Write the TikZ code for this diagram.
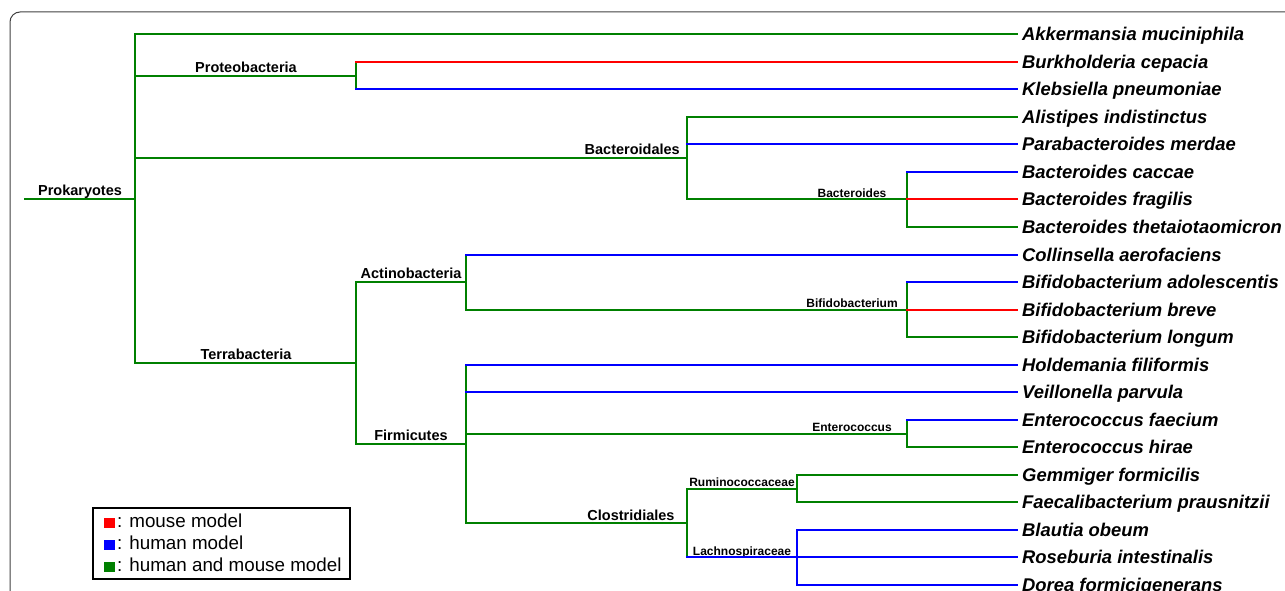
\documentclass[tikz,border=0pt]{standalone}
\usepackage{fontspec}
\setmainfont{Liberation Sans}
\definecolor{grn}{RGB}{0,128,0}
\definecolor{rd}{RGB}{255,0,0}
\definecolor{bl}{RGB}{0,0,255}
\newcommand{\legsq}[1]{\textcolor{#1}{\rule{11pt}{10pt}}\hspace{2pt}}

\begin{document}
\begin{tikzpicture}[x=1pt, y=-1pt,
  leaf/.style = {anchor=west, inner xsep=5pt, inner ysep=0pt, text height=13pt, text depth=0pt,
                 font=\fontsize{18.4}{20}\selectfont\bfseries\itshape},
  clade/.style = {anchor=base, inner sep=0pt, font=\fontsize{14.5}{16}\selectfont\bfseries},
  genus/.style = {anchor=base, inner sep=0pt, font=\fontsize{12}{14}\selectfont\bfseries},
  gline/.style = {draw=grn, line width=1.2pt, line cap=rect},
  rline/.style = {draw=rd, line width=1.2pt, line cap=rect},
  bline/.style = {draw=bl, line width=1.2pt, line cap=rect},
  legitem/.style = {anchor=base west, inner sep=0pt, font=\fontsize{18.8}{20}\selectfont}]
  \useasboundingbox (0,0) rectangle (1285,591);
  \draw[black!75, line width=1pt, rounded corners=10pt] (10,12) rectangle (1300,620);

  % species
  \node[leaf] (akk) at (1017,34) {Akkermansia muciniphila};
  \node[leaf] (burk) at (1017,62) {Burkholderia cepacia};
  \node[leaf] (kleb) at (1017,89) {Klebsiella pneumoniae};
  \node[leaf] (alis) at (1017,117) {Alistipes indistinctus};
  \node[leaf] (para) at (1017,144) {Parabacteroides merdae};
  \node[leaf] (bcac) at (1017,172) {Bacteroides caccae};
  \node[leaf] (bfra) at (1017,199) {Bacteroides fragilis};
  \node[leaf] (bthe) at (1017,227) {Bacteroides thetaiotaomicron};
  \node[leaf] (coll) at (1017,255) {Collinsella aerofaciens};
  \node[leaf] (bado) at (1017,282) {Bifidobacterium adolescentis};
  \node[leaf] (bbre) at (1017,310) {Bifidobacterium breve};
  \node[leaf] (blon) at (1017,337) {Bifidobacterium longum};
  \node[leaf] (hold) at (1017,365) {Holdemania filiformis};
  \node[leaf] (veil) at (1017,392) {Veillonella parvula};
  \node[leaf] (efae) at (1017,420) {Enterococcus faecium};
  \node[leaf] (ehir) at (1017,447) {Enterococcus hirae};
  \node[leaf] (gemm) at (1017,475) {Gemmiger formicilis};
  \node[leaf] (faec) at (1017,502) {Faecalibacterium prausnitzii};
  \node[leaf] (blau) at (1017,530) {Blautia obeum};
  \node[leaf] (rose) at (1017,557) {Roseburia intestinalis};
  \node[leaf] (dore) at (1017,585) {Dorea formicigenerans};

  % branch points
  \coordinate (prok0) at (25,199);
  \coordinate (prok) at (135,199);
  \coordinate (prot) at (356,76);
  \coordinate (bctd) at (687,158);
  \coordinate (bcts) at (907,199);
  \coordinate (terr) at (356,363);
  \coordinate (acti) at (466,282);
  \coordinate (bifi) at (907,310);
  \coordinate (firm) at (466,444);
  \coordinate (ente) at (907,434);
  \coordinate (clos) at (687,523);
  \coordinate (rumi) at (797,489);
  \coordinate (lach) at (797,557);

  % labels
  \node[clade] (lprok) at (80,195) {Prokaryotes};
  \node[clade] (lprot) at (246,73) {Proteobacteria};
  \node[clade, anchor=base east] (lbctd) at (680,155) {Bacteroidales};
  \node[genus] (lbcts) at (852,197) {Bacteroides};
  \node[clade] (lterr) at (246,359) {Terrabacteria};
  \node[clade] (lacti) at (411,278) {Actinobacteria};
  \node[genus] (lbifi) at (852,307) {Bifidobacterium};
  \node[clade] (lfirm) at (411,440) {Firmicutes};
  \node[genus] (lente) at (852,431) {Enterococcus};
  \node[clade] (lclos) at (631,520) {Clostridiales};
  \node[genus] (lrumi) at (742,486) {Ruminococcaceae};
  \node[genus] (llach) at (742,555) {Lachnospiraceae};

  % root
  \draw[gline] (prok0) -- (prok);
  \draw[gline] (akk.west -| prok) -- (terr -| prok);
  \draw[gline] (akk.west -| prok) -- (akk.west);
  % Proteobacteria
  \draw[gline] (prot -| prok) -- (prot);
  \draw[gline] (burk.west -| prot) -- (kleb.west -| prot);
  \draw[rline] (burk.west -| prot) -- (burk.west);
  \draw[bline] (kleb.west -| prot) -- (kleb.west);
  % Bacteroidales
  \draw[gline] (bctd -| prok) -- (bctd);
  \draw[gline] (alis.west -| bctd) -- (bcts -| bctd);
  \draw[gline] (alis.west -| bctd) -- (alis.west);
  \draw[bline] (para.west -| bctd) -- (para.west);
  \draw[gline] (bcts -| bctd) -- (bcts);
  \draw[gline] (bcac.west -| bcts) -- (bthe.west -| bcts);
  \draw[bline] (bcac.west -| bcts) -- (bcac.west);
  \draw[rline] (bcts) -- (bfra.west);
  \draw[gline] (bthe.west -| bcts) -- (bthe.west);
  % Terrabacteria
  \draw[gline] (terr -| prok) -- (terr);
  \draw[gline] (acti -| terr) -- (firm -| terr);
  \draw[gline] (acti -| terr) -- (acti);
  \draw[gline] (firm -| terr) -- (firm);
  % Actinobacteria
  \draw[gline] (coll.west -| acti) -- (bifi -| acti);
  \draw[bline] (coll.west -| acti) -- (coll.west);
  \draw[gline] (bifi -| acti) -- (bifi);
  \draw[gline] (bado.west -| bifi) -- (blon.west -| bifi);
  \draw[bline] (bado.west -| bifi) -- (bado.west);
  \draw[rline] (bifi) -- (bbre.west);
  \draw[gline] (blon.west -| bifi) -- (blon.west);
  % Firmicutes
  \draw[gline] (hold.west -| firm) -- (clos -| firm);
  \draw[bline] (hold.west -| firm) -- (hold.west);
  \draw[bline] (veil.west -| firm) -- (veil.west);
  \draw[gline] (ente -| firm) -- (ente);
  \draw[gline] (clos -| firm) -- (clos);
  \draw[gline] (efae.west -| ente) -- (ehir.west -| ente);
  \draw[bline] (efae.west -| ente) -- (efae.west);
  \draw[gline] (ehir.west -| ente) -- (ehir.west);
  % Clostridiales
  \draw[gline] (rumi -| clos) -- (lach -| clos);
  \draw[gline] (rumi -| clos) -- (rumi);
  \draw[bline] (lach -| clos) -- (lach);
  \draw[gline] (gemm.west -| rumi) -- (faec.west -| rumi);
  \draw[gline] (gemm.west -| rumi) -- (gemm.west);
  \draw[gline] (faec.west -| rumi) -- (faec.west);
  \draw[bline] (blau.west -| lach) -- (dore.west -| lach);
  \draw[bline] (blau.west -| lach) -- (blau.west);
  \draw[bline] (lach) -- (rose.west);
  \draw[bline] (dore.west -| lach) -- (dore.west);

  % legend
  \node[draw, line width=1.5pt, anchor=north west, minimum width=257pt, minimum height=71pt, inner sep=0pt]
    (legend) at (92,507) {};
  \node[legitem] (lmouse) at (104,527.5) {\legsq{rd}: mouse model};
  \node[legitem] (lhuman) at (104,549.5) {\legsq{bl}: human model};
  \node[legitem] (lboth) at (104,571.5) {\legsq{grn}: human and mouse model};
\end{tikzpicture}
\end{document}
